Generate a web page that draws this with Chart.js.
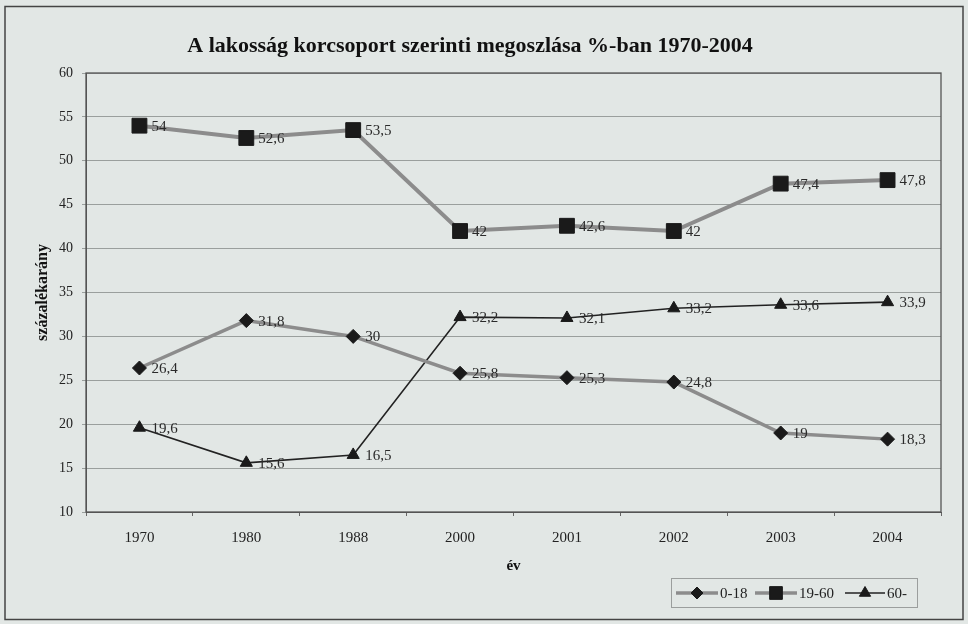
<!DOCTYPE html>
<html>
<head>
<meta charset="utf-8">
<script src="https://cdn.jsdelivr.net/npm/chart.js@4.4.0/dist/chart.umd.min.js"></script>
<style>
  html, body { margin: 0; padding: 0; background: #e2e7e5; }
  #wrap { width: 968px; height: 624px; position: relative; }
</style>
</head>
<body>
<div id="wrap"><canvas id="grafikon" width="968" height="624"></canvas></div>
<script>
// adatok
const evek = ['1970', '1980', '1988', '2000', '2001', '2002', '2003', '2004'];
const kor0_18 = [26.4, 31.8, 30, 25.8, 25.3, 24.8, 19, 18.3];
const kor19_60 = [54, 52.6, 53.5, 42, 42.6, 42, 47.4, 47.8];
const kor60 = [19.6, 15.6, 16.5, 32.2, 32.1, 33.2, 33.6, 33.9];
const sorozatNevek = ['0-18', '19-60', '60-'];
const yTickek = [10, 15, 20, 25, 30, 35, 40, 45, 50, 55, 60];

const betu = '"Liberation Serif", "Times New Roman", serif';

// keret, cím, adatcímkék, jelmagyarázat
const rajzolo = {
    id: 'rajzolo',
    beforeDraw(chart) {
        const c = chart.ctx;
        c.save();
        c.fillStyle = '#e2e7e5';
        c.fillRect(0, 0, chart.width, chart.height);
        c.strokeStyle = '#444';
        c.lineWidth = 1.5;
        c.strokeRect(5, 6.5, 958, 613);
        c.restore();
    },
    afterDatasetsDraw(chart) {
        const c = chart.ctx;
        const a = chart.chartArea;
        c.save();
        c.strokeStyle = '#555';
        c.lineWidth = 1.3;
        c.strokeRect(a.left, a.top, a.right - a.left, a.bottom - a.top);

        // adatcímkék
        c.font = '15px ' + betu;
        c.fillStyle = '#2a2a2a';
        c.textBaseline = 'middle';
        chart.data.datasets.forEach((ds, i) => {
            chart.getDatasetMeta(i).data.forEach((pt, j) => {
                c.fillText(String(ds.data[j]).replace('.', ','), pt.x + 12, pt.y + 1);
            });
        });

        // cím
        c.font = 'bold 22px ' + betu;
        c.textAlign = 'center';
        c.fillStyle = '#111';
        c.fillText('A lakosság korcsoport szerinti megoszlása %-ban 1970-2004', 470, 46);

        // jelmagyarázat
        c.setLineDash([1, 1]);
        c.strokeStyle = '#555';
        c.lineWidth = 1;
        c.strokeRect(671.5, 578.5, 246, 29);
        c.setLineDash([]);
        const elemek = [
            { x: 676, hossz: 42, szin: '#8c8c8c', v: 3.5, stilus: 'rectRot', r: 6 },
            { x: 755, hossz: 42, szin: '#8c8c8c', v: 3.5, stilus: 'rect', r: 9 },
            { x: 845, hossz: 40, szin: '#222', v: 1.5, stilus: 'triangle', r: 6.5 }
        ];
        c.textAlign = 'left';
        c.font = '15px ' + betu;
        elemek.forEach((e, i) => {
            const y = 593;
            c.strokeStyle = e.szin;
            c.lineWidth = e.v;
            c.beginPath();
            c.moveTo(e.x, y);
            c.lineTo(e.x + e.hossz, y);
            c.stroke();
            c.fillStyle = '#1a1a1a';
            c.strokeStyle = '#1a1a1a';
            c.lineWidth = 1;
            Chart.helpers.drawPoint(c, { pointStyle: e.stilus, radius: e.r, borderWidth: 1 }, e.x + e.hossz / 2, y);
            c.fillStyle = '#222';
            c.fillText(sorozatNevek[i], e.x + e.hossz + 2, y + 1);
        });
        c.restore();
    }
};

new Chart(document.getElementById('grafikon'), {
    type: 'line',
    data: {
        labels: evek,
        datasets: [
            {
                label: sorozatNevek[0], data: kor0_18,
                borderColor: '#8c8c8c', borderWidth: 3.5,
                pointStyle: 'rectRot', pointRadius: 7,
                pointBackgroundColor: '#1a1a1a', pointBorderColor: '#1a1a1a', pointBorderWidth: 1
            },
            {
                label: sorozatNevek[1], data: kor19_60,
                borderColor: '#8c8c8c', borderWidth: 4,
                pointStyle: 'rect', pointRadius: 10.5,
                pointBackgroundColor: '#1a1a1a', pointBorderColor: '#1a1a1a', pointBorderWidth: 1
            },
            {
                label: sorozatNevek[2], data: kor60,
                borderColor: '#222', borderWidth: 1.6,
                pointStyle: 'triangle', pointRadius: 7,
                pointBackgroundColor: '#1a1a1a', pointBorderColor: '#1a1a1a', pointBorderWidth: 1
            }
        ]
    },
    options: {
        responsive: false,
        animation: false,
        tension: 0,
        layout: { padding: { left: 33, top: 73, right: 27, bottom: 49 } },
        plugins: {
            legend: { display: false },
            title: { display: false },
            tooltip: { enabled: false }
        },
        scales: {
            x: {
                offset: true,
                afterFit: s => { s.height = 63; },
                grid: { offset: true, drawOnChartArea: false, tickLength: 4, color: '#666' },
                border: { color: '#555' },
                ticks: { color: '#222', font: { family: betu, size: 15 }, padding: 13 },
                title: { display: true, text: 'év', color: '#111', font: { family: betu, size: 15, weight: 'bold' }, padding: 0 }
            },
            y: {
                min: 10, max: 60,
                afterFit: s => { s.width = 53; },
                afterBuildTicks: s => { s.ticks = yTickek.map(v => ({ value: v })); },
                grid: { color: '#9a9f9d', lineWidth: 1, tickLength: 4 },
                border: { color: '#555' },
                ticks: { color: '#222', font: { family: betu, size: 14 }, padding: 9 },
                title: { display: true, text: 'százalékarány', color: '#111', font: { family: betu, size: 16, weight: 'bold' }, padding: 0 }
            }
        }
    },
    plugins: [rajzolo]
});
</script>
</body>
</html>
